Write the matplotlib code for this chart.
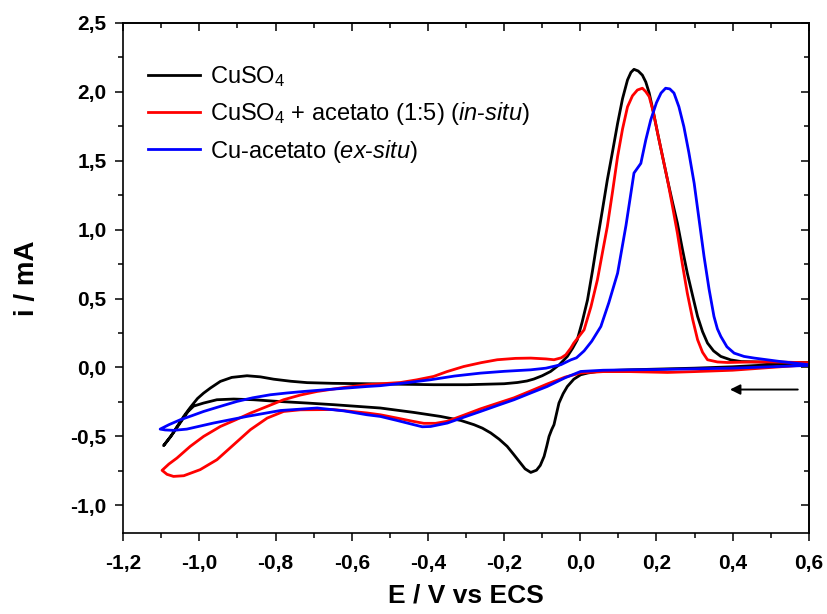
import matplotlib
matplotlib.use("Agg")
import matplotlib.pyplot as plt
from matplotlib.ticker import MultipleLocator, FuncFormatter

plt.rcParams['font.family'] = ['Liberation Sans', 'DejaVu Sans']
plt.rcParams['mathtext.fontset'] = 'custom'
plt.rcParams['mathtext.rm'] = 'Liberation Sans'
plt.rcParams['mathtext.it'] = 'Liberation Sans:italic'

# CuSO4 (cathodic scan from 0.6 V, then return)
e_black = [0.60, 0.50, 0.40, 0.30, 0.20, 0.13, 0.08, 0.045, 0.02, 0.001, -0.017, -0.034,
           -0.045, -0.056, -0.062, -0.069, -0.075, -0.082, -0.088, -0.095, -0.105, -0.115,
           -0.13, -0.145, -0.157, -0.175, -0.192, -0.213, -0.235, -0.257, -0.279, -0.314,
           -0.367, -0.437, -0.525, -0.647, -0.717, -0.80, -0.858, -0.91, -0.954, -0.989,
           -1.015, -1.03, -1.05, -1.07, -1.094,
           -1.075, -1.059, -1.04, -1.024, -1.005, -0.989, -0.971, -0.945, -0.915, -0.875,
           -0.84, -0.805, -0.76, -0.717, -0.65, -0.56, -0.46, -0.385, -0.297, -0.20, -0.165,
           -0.14, -0.122, -0.10, -0.078, -0.055, -0.034, -0.02, -0.008, 0.005, 0.019, 0.032,
           0.045, 0.058, 0.071, 0.085, 0.098, 0.111, 0.124, 0.133, 0.141, 0.152, 0.163,
           0.172, 0.181, 0.192, 0.203, 0.216, 0.229, 0.242, 0.255, 0.268, 0.281, 0.295,
           0.308, 0.321, 0.334, 0.35, 0.369, 0.395, 0.422, 0.50, 0.60]
i_black = [0.03, 0.02, 0.005, -0.005, -0.012, -0.017, -0.022, -0.029, -0.04, -0.053, -0.085, -0.138,
           -0.19, -0.258, -0.33, -0.415, -0.45, -0.50, -0.57, -0.645, -0.71, -0.745,
           -0.761, -0.735, -0.693, -0.63, -0.572, -0.52, -0.475, -0.44, -0.415, -0.384,
           -0.355, -0.326, -0.294, -0.27, -0.258, -0.245, -0.234, -0.229, -0.234, -0.258,
           -0.28, -0.32, -0.40, -0.48, -0.567,
           -0.50, -0.43, -0.35, -0.29, -0.225, -0.186, -0.149, -0.101, -0.072, -0.06,
           -0.068, -0.085, -0.10, -0.11, -0.115, -0.118, -0.122, -0.125, -0.125, -0.118, -0.109,
           -0.098, -0.084, -0.06, -0.029, 0.02, 0.08, 0.14, 0.2, 0.33, 0.49, 0.70,
           0.925, 1.14, 1.36, 1.57, 1.77, 1.95, 2.085, 2.14, 2.162, 2.15, 2.12,
           2.07, 1.99, 1.85, 1.70, 1.53, 1.36, 1.20, 1.046, 0.86, 0.684, 0.52,
           0.37, 0.26, 0.177, 0.12, 0.08, 0.055, 0.043, 0.038, 0.036]

# CuSO4 + acetato (in-situ)
e_red = [0.60, 0.50, 0.40, 0.30, 0.229, 0.13, 0.06, 0.001, -0.04, -0.087, -0.13, -0.174,
         -0.218, -0.262, -0.305, -0.349, -0.38, -0.411, -0.44, -0.481, -0.525, -0.56, -0.65,
         -0.735, -0.779, -0.822, -0.866, -0.91, -0.954, -0.998, -1.041, -1.068, -1.085, -1.098,
         -1.08, -1.059, -1.024, -0.989, -0.945, -0.905, -0.866, -0.82, -0.779, -0.735, -0.691,
         -0.62, -0.56, -0.472, -0.43, -0.385, -0.35, -0.306, -0.26, -0.218, -0.17, -0.13,
         -0.09, -0.069, -0.05, -0.038, -0.025, -0.017, 0.010, 0.028, 0.045, 0.058, 0.071,
         0.085, 0.098, 0.111, 0.124, 0.137, 0.150, 0.163, 0.172, 0.181, 0.192, 0.203, 0.216,
         0.229, 0.242, 0.255, 0.268, 0.281, 0.295, 0.308, 0.321, 0.334, 0.36, 0.387, 0.45,
         0.50, 0.60]
i_red = [0.02, 0.0, -0.02, -0.03, -0.036, -0.03, -0.03, -0.04, -0.07, -0.12, -0.17, -0.22,
         -0.26, -0.30, -0.345, -0.39, -0.405, -0.405, -0.39, -0.367, -0.343, -0.33, -0.305,
         -0.307, -0.319, -0.367, -0.451, -0.56, -0.669, -0.741, -0.785, -0.79, -0.775, -0.746,
         -0.70, -0.657, -0.572, -0.50, -0.428, -0.38, -0.331, -0.28, -0.234, -0.20, -0.174,
         -0.145, -0.125, -0.109, -0.09, -0.065, -0.03, 0.007, 0.035, 0.056, 0.066, 0.068,
         0.062, 0.056, 0.07, 0.092, 0.14, 0.177, 0.273, 0.44, 0.636, 0.83, 1.022,
         1.28, 1.53, 1.73, 1.89, 1.97, 2.012, 2.025, 2.0, 1.964, 1.85, 1.70, 1.53,
         1.36, 1.17, 0.974, 0.75, 0.539, 0.35, 0.201, 0.11, 0.056, 0.04, 0.036, 0.04,
         0.04, 0.035]

# Cu-acetato (ex-situ)
e_blue = [0.60, 0.50, 0.40, 0.30, 0.20, 0.132, 0.06, 0.001, -0.04, -0.087, -0.13, -0.174,
          -0.218, -0.262, -0.305, -0.349, -0.393, -0.415, -0.437, -0.48, -0.525, -0.56, -0.62,
          -0.691, -0.787, -0.875, -0.963, -1.033, -1.068, -1.09, -1.103,
          -1.08, -1.05, -1.02, -0.989, -0.945, -0.901, -0.86, -0.814, -0.77, -0.726, -0.64,
          -0.56, -0.525, -0.46, -0.393, -0.33, -0.262, -0.20, -0.13, -0.09, -0.051, -0.025,
          -0.01, 0.01, 0.03, 0.054, 0.075, 0.098, 0.12, 0.141, 0.159, 0.172, 0.185, 0.20,
          0.212, 0.224, 0.235, 0.246, 0.259, 0.272, 0.285, 0.299, 0.312, 0.325, 0.338, 0.351,
          0.36, 0.369, 0.385, 0.404, 0.43, 0.457, 0.52, 0.60]
i_blue = [0.015, 0.005, -0.005, -0.01, -0.015, -0.017, -0.02, -0.029, -0.075, -0.138, -0.185, -0.234,
          -0.276, -0.319, -0.36, -0.403, -0.428, -0.43, -0.415, -0.385, -0.355, -0.343, -0.315,
          -0.294, -0.312, -0.355, -0.403, -0.447, -0.456, -0.453, -0.447,
          -0.415, -0.379, -0.35, -0.319, -0.282, -0.246, -0.22, -0.198, -0.185, -0.174, -0.155,
          -0.138, -0.132, -0.112, -0.089, -0.062, -0.041, -0.028, -0.017, -0.005, 0.02, 0.055,
          0.07, 0.12, 0.19, 0.297, 0.47, 0.684, 1.03, 1.41, 1.48, 1.65, 1.795, 1.92,
          1.99, 2.025, 2.02, 1.99, 1.89, 1.746, 1.56, 1.336, 1.07, 0.804, 0.57, 0.37,
          0.28, 0.225, 0.15, 0.104, 0.08, 0.068, 0.045, 0.02]

labels = ["CuSO$_4$",
          "CuSO$_4$ + acetato (1:5) ($\\mathit{in}$-$\\mathit{situ}$)",
          "Cu-acetato ($\\mathit{ex}$-$\\mathit{situ}$)"]
colors = ["black", "#ff0000", "#0000ff"]

# scan direction arrow
arrow_start = (0.571, -0.16)
arrow_end = (0.393, -0.16)

fig, ax = plt.subplots(figsize=(8.27, 6.14), dpi=100)
fig.subplots_adjust(left=0.149, right=0.978, bottom=0.132, top=0.963)

for e, i, lab, c in zip([e_black, e_red, e_blue], [i_black, i_red, i_blue], labels, colors):
    ax.plot(e, i, color=c, lw=2.0, label=lab)

ax.annotate("", xy=arrow_end, xytext=arrow_start,
            arrowprops=dict(arrowstyle="-|>", color="black", lw=1.4,
                            mutation_scale=15, shrinkA=0, shrinkB=0))

ax.set_xlim(-1.2, 0.6)
ax.set_ylim(-1.2, 2.5)


def comma(v, pos):
    if abs(v) < 1e-9:
        v = 0.0
    return f"{v:.1f}".replace(".", ",")


ax.xaxis.set_major_locator(MultipleLocator(0.2))
ax.xaxis.set_minor_locator(MultipleLocator(0.1))
ax.yaxis.set_major_locator(MultipleLocator(0.5))
ax.yaxis.set_minor_locator(MultipleLocator(0.25))
ax.xaxis.set_major_formatter(FuncFormatter(comma))
ax.yaxis.set_major_formatter(FuncFormatter(comma))
ax.tick_params(which="major", direction="out", length=6, width=1.1, labelsize=15)
ax.tick_params(which="minor", direction="out", length=3.5, width=1.1)
ax.tick_params(axis="x", which="major", pad=9)
ax.tick_params(axis="y", which="major", pad=6)
for lab in ax.get_xticklabels() + ax.get_yticklabels():
    lab.set_fontweight("bold")

# mirrored ticks pointing inward on top and right
top = ax.secondary_xaxis("top")
right = ax.secondary_yaxis("right")
top.xaxis.set_major_locator(MultipleLocator(0.2))
top.xaxis.set_minor_locator(MultipleLocator(0.1))
right.yaxis.set_major_locator(MultipleLocator(0.5))
right.yaxis.set_minor_locator(MultipleLocator(0.25))
for sec in (top, right):
    sec.tick_params(which="major", direction="in", length=6, width=1.1)
    sec.tick_params(which="minor", direction="in", length=3.5, width=1.1)
    sec.tick_params(labeltop=False, labelright=False)
top.xaxis.set_major_formatter(FuncFormatter(lambda v, p: ""))
right.yaxis.set_major_formatter(FuncFormatter(lambda v, p: ""))
top.spines["top"].set_linewidth(1.2)
right.spines["right"].set_linewidth(1.2)

for s in ax.spines.values():
    s.set_linewidth(1.2)

ax.set_xlabel("E / V vs ECS", fontsize=19, fontweight="bold", labelpad=8)
ax.set_ylabel("i / mA", fontsize=20, fontweight="bold", labelpad=22)

ax.legend(loc="upper left", bbox_to_anchor=(0.005, 0.96), frameon=False, fontsize=17,
          handlelength=2.2, handletextpad=0.42, labelspacing=0.45)

fig.savefig("out.png", dpi=100)
